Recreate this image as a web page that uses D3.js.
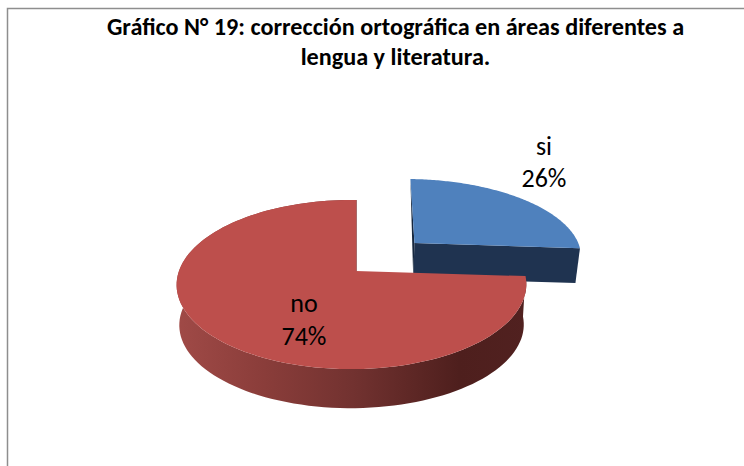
<!DOCTYPE html>
<html>
<head>
<meta charset="utf-8">
<script src="https://cdn.jsdelivr.net/npm/d3@7/dist/d3.min.js"></script>
<style>
html,body{margin:0;padding:0;background:#fff;overflow:hidden}
text{font-family:Carlito,Lato,"Open Sans",sans-serif;fill:#000}
</style>
</head>
<body>
<script>
const categories = ["si", "no"];
const values = [26, 74];
const percentLabels = ["26%", "74%"];
const titleLines = ["Gráfico N° 19: corrección ortográfica en áreas diferentes a", "lengua y literatura."];

const width = 744, height = 466;
const svg = d3.select("body").append("svg").attr("width", width).attr("height", height).style("display","block");

// Frame (open to the right and the bottom, as in the picture)
svg.append("path").attr("d", `M7.5,${height} V8.5 H${width}`).attr("fill","none").attr("stroke","#8e8e8e").attr("stroke-width",1.5);

const defs = svg.append("defs");
const grad = defs.append("linearGradient").attr("id","redWall").attr("gradientUnits","userSpaceOnUse")
  .attr("x1",176).attr("x2",530).attr("y1",0).attr("y2",0);
[[0,"#a04a47"],[0.25,"#8a3d3a"],[0.5,"#723230"],[0.8,"#4e1f1d"],[1,"#512120"]].forEach(([o,c])=>grad.append("stop").attr("offset",o).attr("stop-color",c));

// Projection of the flat pie disc onto the tilted picture plane
const view = {cx:356, cy:271, rx:172.5, ry:82.4, kY:0.16, kX:0.0256};
function project(x, y, face) {
  const w = 1 + view.kY*y + view.kX*x;
  return [view.cx + face.ox + face.f*view.rx*x/w, view.cy + face.oy + face.d + face.f*view.ry*(-y)/w];
}
const pie = d3.pie().value(d=>d).sort(null).startAngle(0).endAngle(2*Math.PI);
const arcs = pie(values);
const line = d3.line();
const sliceStyle = [
  {top:"#4f81bd", wall:"#1f3350", edge:"#16273e", explode:0.49, ox:0.5, oy:-2, depth:34.5, f:0.98, stretch:1.044, shear:0.06},
  {top:"#bd4f4c", wall:"url(#redWall)", edge:"#8a3a38", explode:0, ox:0, oy:0, depth:40.5, f:0.985, stretch:1, shear:0}
];

function slicePts(a, s, floor) {
  const mid = (a.startAngle+a.endAngle)/2;
  const ex = s.explode*Math.sin(mid), ey = s.explode*Math.cos(mid);
  const face = floor ? {f:s.f, d:s.depth, ox:s.ox, oy:s.oy} : {f:1, d:0, ox:s.ox, oy:s.oy};
  const base = project(ex, ey, {f:1, d:0, ox:s.ox, oy:s.oy});
  const tweak = p => [base[0] + (p[0]-base[0])*s.stretch + s.shear*(base[1]-p[1]+(floor?s.depth:0)), p[1]];
  const n = 120;
  const rim = d3.range(n+1).map(i=>{
    const t = a.startAngle + (a.endAngle-a.startAngle)*i/n;
    return tweak(project(ex+Math.sin(t), ey+Math.cos(t), face));
  });
  return {rim, apex: tweak(project(ex, ey, face))};
}

arcs.forEach((a,i)=>{
  const s = sliceStyle[i];
  const top = slicePts(a,s,false), bot = slicePts(a,s,true);
  const g = svg.append("g").attr("class","slice");
  if (i===0) {
    g.append("path").attr("d", line([top.apex, top.rim[top.rim.length-1], bot.rim[bot.rim.length-1], bot.apex])+"Z").attr("fill",s.wall);
    g.append("path").attr("d", line([top.rim[0], top.apex, bot.apex])+"Z").attr("fill",s.edge);
  } else {
    g.append("path").attr("d", line(top.rim.concat(bot.rim.slice().reverse()))+"Z").attr("fill",s.wall);
    g.append("path").attr("d", line([top.apex, top.rim[top.rim.length-1]])).attr("stroke",s.edge).attr("stroke-width",1.5).attr("fill","none");
  }
  g.append("path").attr("d", line(top.rim.concat([top.apex]))+"Z").attr("fill",s.top);
});

// Title
svg.append("g").selectAll("text").data(titleLines).join("text")
  .attr("x",395.5).attr("y",(d,i)=>35+i*30).attr("text-anchor","middle")
  .attr("font-size",24.2).attr("font-weight",700).text(d=>d);

// Data labels
const labelPos = [[544,[155,187]],[304,[312,345]]];
categories.forEach((c,i)=>{
  const [x,ys] = labelPos[i];
  [c, percentLabels[i]].forEach((t,j)=>{
    svg.append("text").attr("x",x).attr("y",ys[j]).attr("text-anchor","middle").attr("font-size",26).text(t);
  });
});
</script>
</body>
</html>
